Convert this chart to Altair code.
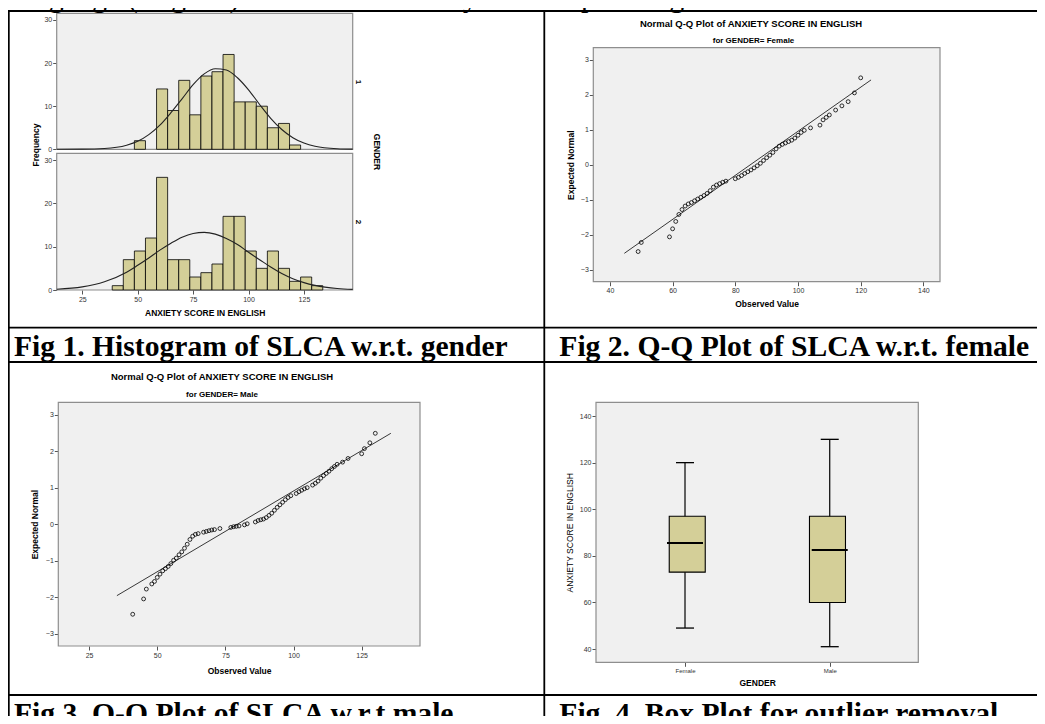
import altair as alt
import pandas as pd

# ---------------- data ----------------
# Fig 1 histogram (GENDER 1 = Female, GENDER 2 = Male), bins of width 5
HIST_FEMALE_BIN_START = [48.5, 58.5, 63.5, 68.5, 73.5, 78.5, 83.5, 88.5, 93.5, 98.5,
                         103.5, 108.5, 113.5, 118.5]
HIST_FEMALE_COUNT = [2, 14, 9, 16, 8, 17, 18, 22, 11, 11, 10, 5, 6, 1]
HIST_MALE_BIN_START = [38.5, 43.5, 48.5, 53.5, 58.5, 63.5, 68.5, 73.5, 78.5, 83.5,
                       88.5, 93.5, 98.5, 103.5, 108.5, 113.5, 118.5, 123.5, 128.5]
HIST_MALE_COUNT = [1, 7, 9, 12, 26, 7, 7, 3, 4, 6, 17, 17, 9, 5, 9, 5, 2, 3, 1]
BIN_WIDTH = 5

# fitted normal curves
CURVE_X = [13.5, 25, 35, 45, 50, 55, 60, 65, 70, 75, 80, 85, 90, 95, 100, 105,
           110, 115, 120, 125, 130, 140, 147]
CURVE_FEMALE = [0.0, 0.03, 0.19, 0.96, 1.86, 3.4, 5.6, 8.5, 11.7, 15.0, 17.5, 18.7,
                18.4, 16.6, 13.8, 10.4, 7.2, 4.6, 2.7, 1.45, 0.7, 0.13, 0.03]
CURVE_MALE = [0.18, 0.72, 1.9, 4.1, 5.7, 7.4, 9.2, 10.8, 12.2, 13.05, 13.3, 12.9,
              11.9, 10.5, 8.7, 7.0, 5.3, 3.8, 2.6, 1.7, 1.06, 0.35, 0.15]

# Fig 2 Q-Q plot, female
QQ_F_OBS = [49, 50, 59, 60, 61, 62, 63, 64, 65, 66, 67, 68, 69, 70, 71, 72, 73, 74,
            75, 76, 77, 80, 81, 82, 83, 84, 85, 86, 87, 88, 89, 90, 91, 92, 93, 94,
            95, 96, 97, 98, 99, 100, 101, 102, 104, 107, 108, 109, 110, 112, 114,
            116, 118, 120]
QQ_F_EXP = [-2.48, -2.22, -2.06, -1.83, -1.62, -1.42, -1.28, -1.18, -1.12, -1.08,
            -1.03, -0.98, -0.93, -0.88, -0.82, -0.74, -0.64, -0.58, -0.54, -0.50,
            -0.47, -0.40, -0.36, -0.31, -0.25, -0.20, -0.15, -0.09, -0.03, 0.04,
            0.12, 0.20, 0.27, 0.35, 0.45, 0.53, 0.58, 0.62, 0.66, 0.70, 0.76, 0.84,
            0.92, 0.98, 1.05, 1.13, 1.28, 1.35, 1.42, 1.56, 1.68, 1.80, 2.05, 2.48]
QQ_F_LINE_X = [44.6, 123.3]
QQ_F_LINE_Y = [-2.53, 2.42]

# Fig 3 Q-Q plot, male
QQ_M_OBS = [41, 45, 46, 48, 49, 50, 51, 52, 53, 54, 55, 56, 57, 58, 59, 60, 61, 62,
            63, 64, 65, 67, 68, 69, 70, 71, 73, 77, 78, 79, 80, 82, 83, 86, 87, 88,
            89, 90, 91, 92, 93, 94, 95, 96, 97, 98, 99, 101, 102, 103, 104, 105,
            107, 108, 109, 110, 111, 112, 113, 114, 115, 116, 118, 120, 125, 126,
            128, 130]
QQ_M_EXP = [-2.47, -2.05, -1.78, -1.64, -1.57, -1.46, -1.37, -1.28, -1.22, -1.16,
            -1.08, -0.99, -0.93, -0.84, -0.76, -0.66, -0.55, -0.42, -0.33, -0.28,
            -0.26, -0.22, -0.20, -0.18, -0.16, -0.15, -0.12, -0.09, -0.07, -0.06,
            -0.05, -0.02, 0.01, 0.06, 0.10, 0.12, 0.14, 0.18, 0.24, 0.30, 0.38,
            0.46, 0.53, 0.60, 0.67, 0.73, 0.78, 0.84, 0.89, 0.93, 0.97, 1.00, 1.07,
            1.12, 1.18, 1.26, 1.33, 1.39, 1.45, 1.52, 1.58, 1.64, 1.70, 1.80, 1.93,
            2.07, 2.23, 2.49]
QQ_M_LINE_X = [35.2, 135.7]
QQ_M_LINE_Y = [-1.96, 2.49]

# Fig 4 box plot
BOX_GENDER = ["Female", "Male"]
BOX_POS = [0, 1]
BOX_LOW = [49, 41]
BOX_Q1 = [73, 60]
BOX_MEDIAN = [85.5, 82.5]
BOX_Q3 = [97, 97]
BOX_HIGH = [120, 130]

# axis tick values / domains
HIST_X_TICKS = [25, 50, 75, 100, 125]
HIST_Y_TICKS = [0, 10, 20, 30]
QQ_F_X_TICKS = [40, 60, 80, 100, 120, 140]
QQ_M_X_TICKS = [25, 50, 75, 100, 125]
QQ_Y_TICKS = [-3, -2, -1, 0, 1, 2, 3]
BOX_Y_TICKS = [40, 60, 80, 100, 120, 140]
HIST_X_DOMAIN = [13.45, 147]
HIST_Y_DOMAIN = [0, 31.55]
QQ_F_X_DOMAIN = [34.7, 145.3]
QQ_M_X_DOMAIN = [13.7, 146.4]
QQ_Y_DOMAIN = [-3.34, 3.34]
BOX_X_DOMAIN = [-0.615, 1.612]
BOX_Y_DOMAIN = [34.3, 145.9]

# ---------------- styles ----------------
W, H = 1029, 708
SANS = "Liberation Sans"
SERIF = "Liberation Serif"
PLOT_BG = "#F0F0F0"
FRAME = "#8E8E8E"
BAR_FILL = "#D4CF98"
ONE = pd.DataFrame({"k": [0]})


def sc(domain, rng):
    return alt.Scale(domain=domain, range=rng, nice=False, zero=False)


def bg(xs, ys, xdom, ydom, xaxis, yaxis):
    df = pd.DataFrame({"x": [xdom[0]], "x2": [xdom[1]], "y": [ydom[0]], "y2": [ydom[1]]})
    return alt.Chart(df).mark_rect(fill=PLOT_BG, stroke=FRAME, strokeWidth=1.2).encode(
        x=alt.X("x:Q", scale=xs, axis=xaxis), x2="x2:Q",
        y=alt.Y("y:Q", scale=ys, axis=yaxis), y2="y2:Q")


def text(t, x, y, size, weight="normal", angle=0, font=SANS, align="center",
         baseline="middle", color="black"):
    return alt.Chart(ONE).mark_text(text=t, fontSize=size, fontWeight=weight, angle=angle,
                                    font=font, align=align, baseline=baseline,
                                    color=color).encode(x=alt.value(x), y=alt.value(y))


def rule(x1, x2, y1, y2, width=1.8):
    return alt.Chart(ONE).mark_rule(color="black", strokeWidth=width).encode(
        x=alt.value(x1), x2=alt.value(x2), y=alt.value(y1), y2=alt.value(y2))


def yaxis(left, values, title="", pad=5, weight="bold"):
    return alt.Axis(orient="left", offset=-left, values=values, title=title,
                    titlePadding=pad, titleFontWeight=weight)


def xaxis(bottom, values, title, pad=7, **extra):
    return alt.Axis(orient="bottom", offset=bottom - H, values=values, title=title,
                    titlePadding=pad, **extra)


# ---------------- Fig 1: histogram panels ----------------
HX = [48.7, 344.7]


def hist_panel(starts, counts, curve, yrange, show_x):
    xs = sc(HIST_X_DOMAIN, HX)
    ys = sc(HIST_Y_DOMAIN, yrange)
    xa = xaxis(yrange[0], HIST_X_TICKS, "ANXIETY SCORE IN ENGLISH", pad=6) if show_x else None
    back = bg(xs, ys, HIST_X_DOMAIN, HIST_Y_DOMAIN, xa, yaxis(HX[0], HIST_Y_TICKS))
    bars_df = pd.DataFrame({"start": starts, "count": counts})
    bars_df["end"] = bars_df["start"] + BIN_WIDTH
    bars = alt.Chart(bars_df).mark_rect(fill=BAR_FILL, stroke="black", strokeWidth=0.8).encode(
        x=alt.X("start:Q", scale=xs, axis=None), x2="end:Q",
        y=alt.Y("count:Q", scale=ys, axis=None), y2=alt.datum(0))
    curve_df = pd.DataFrame({"x": CURVE_X, "f": curve})
    line = alt.Chart(curve_df).mark_line(color="#222222", strokeWidth=1.1,
                                         interpolate="monotone").encode(
        x=alt.X("x:Q", scale=xs, axis=None), y=alt.Y("f:Q", scale=ys, axis=None))
    return [back, bars, line]


hist_top = hist_panel(HIST_FEMALE_BIN_START, HIST_FEMALE_COUNT, CURVE_FEMALE, [141.3, 5.3], False)
hist_bottom = hist_panel(HIST_MALE_BIN_START, HIST_MALE_COUNT, CURVE_MALE, [282.0, 145.3], True)


# ---------------- Q-Q panels ----------------
def qq_panel(obs, exp, lx, ly, xdom, xr, yr, xticks, xpad, ypad):
    xs = sc(xdom, xr)
    ys = sc(QQ_Y_DOMAIN, yr)
    back = bg(xs, ys, xdom, QQ_Y_DOMAIN, xaxis(yr[0], xticks, "Observed Value", pad=xpad),
              yaxis(xr[0], QQ_Y_TICKS, "Expected Normal", pad=ypad))
    line = alt.Chart(pd.DataFrame({"x": lx, "y": ly})).mark_line(
        color="#222222", strokeWidth=0.9).encode(
        x=alt.X("x:Q", scale=xs, axis=None), y=alt.Y("y:Q", scale=ys, axis=None))
    pts = alt.Chart(pd.DataFrame({"x": obs, "y": exp})).mark_point(
        shape="circle", filled=False, color="black", size=15, strokeWidth=0.8,
        opacity=1).encode(
        x=alt.X("x:Q", scale=xs, axis=None), y=alt.Y("y:Q", scale=ys, axis=None))
    return [back, line, pts]


qq_female = qq_panel(QQ_F_OBS, QQ_F_EXP, QQ_F_LINE_X, QQ_F_LINE_Y, QQ_F_X_DOMAIN,
                     [585.3, 932.0], [273.7, 39.7], QQ_F_X_TICKS, 6, 5)
qq_male = qq_panel(QQ_M_OBS, QQ_M_EXP, QQ_M_LINE_X, QQ_M_LINE_Y, QQ_M_X_DOMAIN,
                   [50.3, 412.0], [638.0, 394.3], QQ_M_X_TICKS, 8, 6)

# ---------------- Fig 4: box plot ----------------
bxs = sc(BOX_X_DOMAIN, [588.0, 910.3])
bys = sc(BOX_Y_DOMAIN, [654.3, 394.3])
box_df = pd.DataFrame({"pos": BOX_POS, "gender": BOX_GENDER, "low": BOX_LOW, "q1": BOX_Q1,
                       "median": BOX_MEDIAN, "q3": BOX_Q3, "high": BOX_HIGH})
box_back = bg(bxs, bys, BOX_X_DOMAIN, BOX_Y_DOMAIN,
              xaxis(654.3, BOX_POS, "GENDER", pad=5,
                    labelExpr="datum.value == 0 ? 'Female' : 'Male'", labelFontSize=6),
              yaxis(588.0, BOX_Y_TICKS, "ANXIETY SCORE IN ENGLISH", pad=5, weight="normal"))
bx = alt.X("pos:Q", scale=bxs, axis=None)
whisk = alt.Chart(box_df).mark_rule(color="black", strokeWidth=1.2).encode(
    x=bx, y=alt.Y("low:Q", scale=bys, axis=None), y2="high:Q")
boxes = alt.Chart(box_df).mark_bar(size=36, fill=BAR_FILL, stroke="black",
                                   strokeWidth=1.1).encode(
    x=bx, y=alt.Y("q1:Q", scale=bys, axis=None), y2="q3:Q")
med = alt.Chart(box_df).mark_tick(orient="horizontal", size=36, thickness=2.2,
                                  color="black", opacity=1).encode(
    x=bx, y=alt.Y("median:Q", scale=bys, axis=None))
cap_lo = alt.Chart(box_df).mark_tick(orient="horizontal", size=18, thickness=1.3,
                                     color="black", opacity=1).encode(
    x=bx, y=alt.Y("low:Q", scale=bys, axis=None))
cap_hi = alt.Chart(box_df).mark_tick(orient="horizontal", size=18, thickness=1.3,
                                     color="black", opacity=1).encode(
    x=bx, y=alt.Y("high:Q", scale=bys, axis=None))
box_panel = [box_back, whisk, boxes, med, cap_lo, cap_hi]

# ---------------- texts & table lines ----------------
texts = [
    text("Language (English) Classroom Anxiety with respect to gender was normal in nature",
         -6, -1.5, 30, font=SERIF, align="left", baseline="alphabetic"),
    text("Frequency", 28, 137, 8.5, weight="bold", angle=270),
    text("1", 350, 74, 8, weight="bold", angle=90),
    text("2", 350, 214, 8, weight="bold", angle=90),
    text("GENDER", 369, 144, 8.5, weight="bold", angle=90),
    text("Normal Q-Q Plot of ANXIETY SCORE IN ENGLISH", 743, 16, 9.5, weight="bold"),
    text("for GENDER= Female", 745.5, 33, 8, weight="bold"),
    text("Normal Q-Q Plot of ANXIETY SCORE IN ENGLISH", 214, 369.3, 9.5, weight="bold"),
    text("for GENDER= Male", 214, 387, 8, weight="bold"),
    text("Fig 1. Histogram of SLCA w.r.t. gender", 6, 348, 29.6, weight="bold", font=SERIF,
         align="left", baseline="alphabetic"),
    text("Fig 2. Q-Q Plot of SLCA w.r.t. female", 551.3, 348, 29.6, weight="bold", font=SERIF,
         align="left", baseline="alphabetic"),
    text("Fig 3. Q-Q Plot of SLCA w.r.t.male", 6, 715, 29.6, weight="bold", font=SERIF,
         align="left", baseline="alphabetic"),
    text("Fig. 4. Box Plot for outlier removal", 551.3, 715, 29.6, weight="bold", font=SERIF,
         align="left", baseline="alphabetic"),
]
lines = [
    rule(0, W, 3, 3),
    rule(0.8, 0.8, 3, H),
    rule(536.3, 536.3, 3, H),
    rule(0, W, 319.7, 319.7),
    rule(0, W, 354, 354),
    rule(0, W, 687, 687),
]

chart = alt.layer(
    *hist_top, *hist_bottom, *qq_female, *qq_male, *box_panel, *texts, *lines
).resolve_scale(
    x="independent", y="independent"
).properties(
    width=W, height=H, padding=0, autosize=alt.AutoSizeParams(type="none"),
    background="white"
).configure_view(
    stroke="transparent"
).configure_axis(
    grid=False, domain=False, labelFont=SANS, labelFontSize=7, labelColor="#333333",
    tickColor="#555555", tickSize=4, tickWidth=1, labelPadding=1, titleFont=SANS,
    titleFontSize=8.5, titleColor="black", labelFlush=False, labelOverlap=False
)

chart.save("out.html", embed_options={"renderer": "svg", "actions": False})
